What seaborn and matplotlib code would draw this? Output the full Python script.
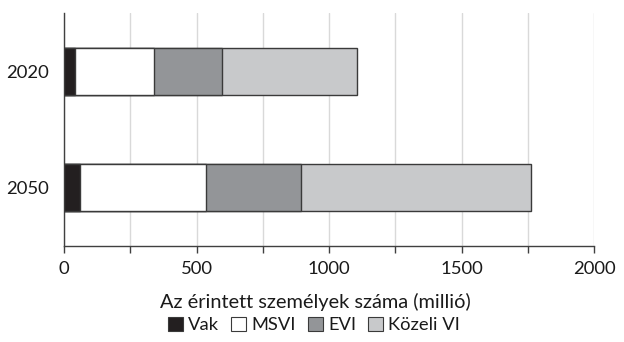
import matplotlib
matplotlib.use("Agg")
import matplotlib.pyplot as plt
from matplotlib.patches import Patch
import seaborn as sns
import pandas as pd
import numpy as np

years = ["2020", "2050"]
categories = ["Vak", "MSVI", "EVI", "Közeli VI"]
vak = [43, 61]
msvi = [295, 474]
evi = [258, 360]
kozeli = [510, 866]
colors = ["#231f20", "#ffffff", "#939598", "#c8c9cb"]
xlabel = "Az érintett személyek száma (millió)"
xticks = [0, 250, 500, 750, 1000, 1250, 1500, 1750, 2000]
xticklabels = ["0", "", "500", "", "1000", "", "1500", "", "2000"]

sns.set_theme(style="white")
plt.rcParams["font.family"] = ["Lato", "DejaVu Sans"]

series = [vak, msvi, evi, kozeli]
cum = np.cumsum(np.array(series), axis=0)
df = pd.DataFrame({"year": years})
for i, c in enumerate(categories):
    df[c] = cum[i]

fig = plt.figure(figsize=(6.24, 3.42), dpi=100)
ax = fig.add_axes([64/624, 1-246/342, (594-64)/624, (246-13)/342])

edge = "#3a3a3a"
for i in reversed(range(len(categories))):
    sns.barplot(data=df, x=categories[i], y="year", order=years, orient="h",
                color=colors[i], edgecolor=edge, linewidth=1.0, width=0.405,
                saturation=1, ax=ax, zorder=3)

ax.set_xlim(0, 2000)
ax.set_ylim(1.5, -0.5)
ax.set_xticks(xticks)
ax.set_xticklabels(xticklabels)
ax.grid(axis="x", color="#d9d9d9", linewidth=1.0, zorder=0)
ax.set_axisbelow(True)
for s in ["top", "right"]:
    ax.spines[s].set_visible(False)
for s in ["left", "bottom"]:
    ax.spines[s].set_color("#404040")
    ax.spines[s].set_linewidth(1.0)
ax.tick_params(axis="x", length=5, width=1, color="#404040", direction="out",
               labelsize=13.5, pad=6, labelcolor="#1a1a1a", bottom=True)
ax.tick_params(axis="y", length=0, labelsize=13.5, pad=11, labelcolor="#1a1a1a")
ax.set_xlabel("")
ax.set_ylabel("")

renderer = fig.canvas.get_renderer()

# axis title, fitted to the reference width (~313 px)
lab = fig.text(315/624, 1-302/342, xlabel, fontsize=14, color="#1a1a1a",
               ha="center", va="center")
w = lab.get_window_extent(renderer).width
lab.set_fontsize(14 * 313 / w)

# tick labels fitted ("1000" ~43 px wide)
probe = fig.text(0, 0, "1000", fontsize=13.5)
tw = probe.get_window_extent(renderer).width
probe.remove()
ts = 13.5 * 43 / tw
ax.tick_params(axis="both", labelsize=ts)

handles = [Patch(facecolor=colors[i], edgecolor=edge, linewidth=0.8, label=categories[i])
           for i in range(len(categories))]

def make_legend(fs):
    return fig.legend(handles=handles, loc="center", bbox_to_anchor=(314/624, 1-325/342),
                      ncol=4, frameon=False, fontsize=fs, handlelength=0.8,
                      handleheight=0.8, handletextpad=0.3, columnspacing=0.65,
                      labelcolor="#1a1a1a", borderpad=0, borderaxespad=0)

leg = make_legend(13)
lw = leg.get_window_extent(renderer).width
leg.remove()
leg = make_legend(13 * 292 / lw)

fig.savefig("out.png", dpi=100)
